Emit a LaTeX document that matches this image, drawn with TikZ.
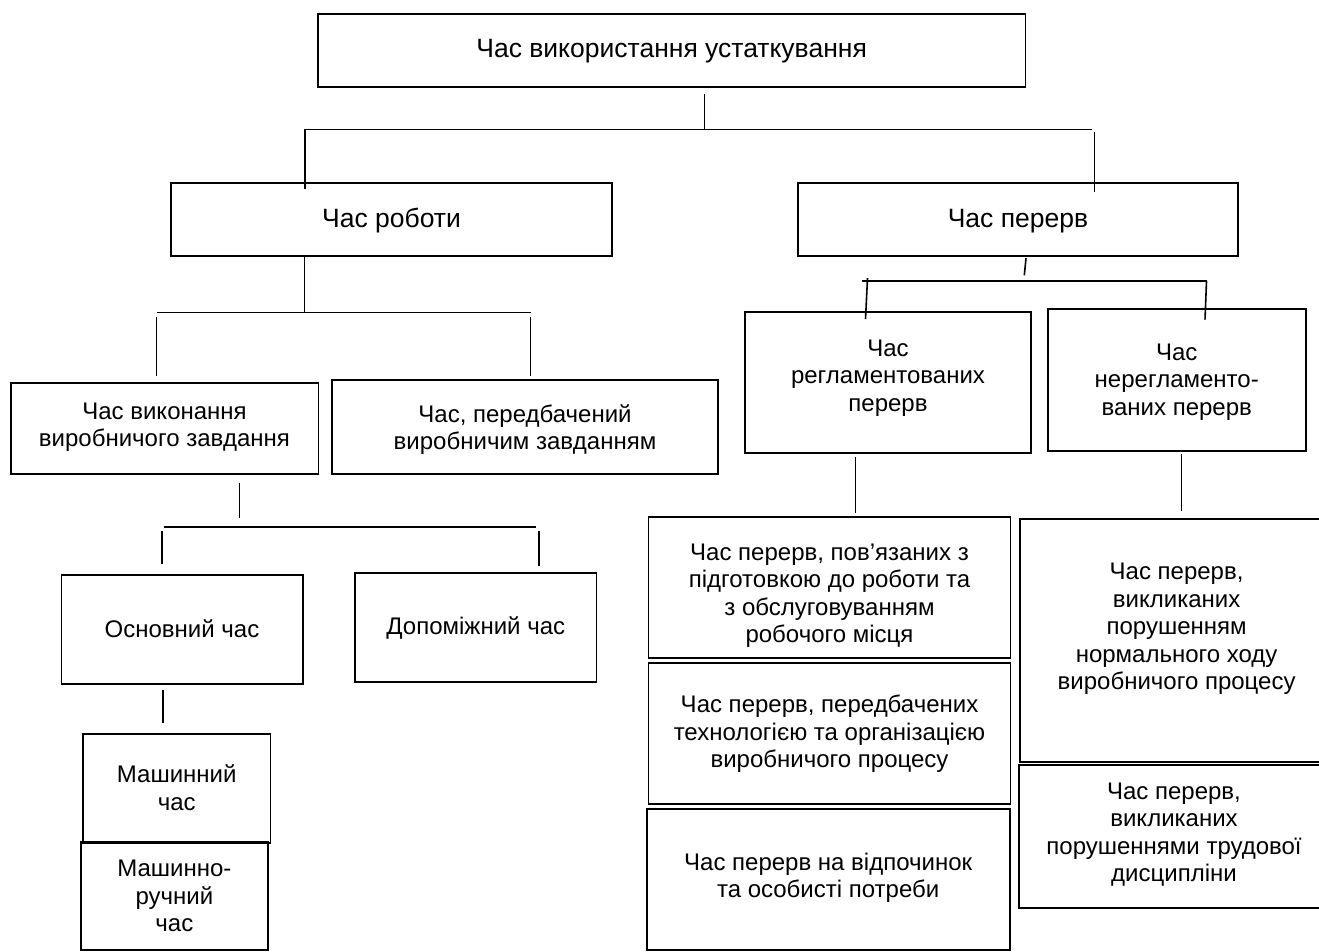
\documentclass[tikz,border=0pt]{standalone}
\usepackage{fontspec}
\setmainfont{Liberation Sans}
\usetikzlibrary{calc}
\begin{document}
\begin{tikzpicture}[x=1pt,y=-1pt,
  box/.style={draw, line width=1.8pt, rectangle, inner sep=0pt},
  txt/.style={align=center, inner sep=0pt, font=\fontsize{24}{27.4}\selectfont},
  big/.style={align=center, inner sep=0pt, font=\fontsize{26.5}{30}\selectfont},
  conn/.style={line width=1.6pt}]
\useasboundingbox (0,0) rectangle (1319,951);
\clip (0,0) rectangle (1319,951);
\fill[white] (0,0) rectangle (1319,951);

% boxes
\node[box, minimum width=707.8pt, minimum height=72.7pt] (b1) at (671.6,50.35) {};
\node[box, minimum width=441pt, minimum height=72.7pt] (b2) at (391.5,219.65) {};
\node[box, minimum width=440pt, minimum height=72.7pt] (b3) at (1018,219.65) {};
\node[box, minimum width=307.7pt, minimum height=91pt] (b4) at (164.55,428.8) {};
\node[box, minimum width=386.3pt, minimum height=94.3pt] (b5) at (525.15,427.15) {};
\node[box, minimum width=286.4pt, minimum height=141.6pt] (b6) at (888,382.5) {};
\node[box, minimum width=257.9pt, minimum height=142pt] (b7) at (1176.75,380) {};
\node[box, minimum width=241.6pt, minimum height=109.3pt] (b8) at (182.2,629.65) {};
\node[box, minimum width=241.5pt, minimum height=109pt] (b9) at (475.75,627.8) {};
\node[box, minimum width=187.5pt, minimum height=109.3pt] (b10) at (176.75,788.35) {};
\node[box, minimum width=186.7pt, minimum height=107.7pt] (b11) at (174.35,896.15) {};
\node[box, minimum width=362pt, minimum height=141.6pt] (b12) at (829.5,587.5) {};
\node[box, minimum width=362pt, minimum height=141.6pt] (b13) at (829.5,733.5) {};
\node[box, minimum width=362.9pt, minimum height=140.7pt] (b14) at (828.15,879.65) {};
\node[box, minimum width=313pt, minimum height=242.7pt] (b15) at (1176.5,640.35) {};
\node[box, minimum width=310.2pt, minimum height=143.3pt] (b16) at (1173.9,836.65) {};

% texts
\node[big] (t1) at (671.6,51) {Час використання устаткування};
\node[big] (t2) at (391.5,221) {Час роботи};
\node[big] (t3) at (1018,221) {Час перерв};
\node[txt] (t4) at (164.5,427) {Час виконання\\виробничого завдання};
\node[txt] (t5) at (525,429.5) {Час, передбачений\\виробничим завданням};
\node[txt] (t6) at (888,378) {Час\\регламентованих\\перерв};
\node[txt] (t7) at (1176.75,382) {Час\\нерегламенто-\\ваних перерв};
\node[txt] (t8) at (182,629) {Основний час};
\node[txt] (t9) at (475.75,628) {Допоміжний час};
\node[txt] (t10) at (176.75,787.5) {Машинний\\час};
\node[txt] (t11) at (174.35,896) {Машинно-\\ручний\\час};
\node[txt] (t12) at (829.5,595.7) {Час перерв, пов’язаних з\\підготовкою до роботи та\\з обслуговуванням\\робочого місця};
\node[txt] (t13) at (829.5,733.7) {Час перерв, передбачених\\технологією та організацією\\виробничого процесу};
\node[txt] (t14) at (828.15,877.8) {Час перерв на відпочинок\\та особисті потреби};
\node[txt] (t15) at (1176.6,629) {Час перерв,\\викликаних\\порушенням\\нормального ходу\\виробничого процесу};
\node[txt] (t16) at (1174,834.5) {Час перерв,\\викликаних\\порушеннями трудової\\дисципліни};

% bus coordinates
\coordinate (h1L) at (305,129.3);
\coordinate (h1R) at (1091.5,129.3);
\coordinate (h2L) at (157.3,312.3);
\coordinate (h2R) at (530.7,312.3);
\coordinate (h3L) at (862,281);
\coordinate (h3R) at (1206.5,281);
\coordinate (h4L) at (163.9,526.7);
\coordinate (h4R) at (536.3,526.7);

% connectors
\draw[conn] ($(b1.south)+(33,6.3)$) -- ($(b1.south)+(33,42.6)$);
\draw[conn] (h1L) -- (h1R);
\draw[conn] (h1L) -- ($(b2.north)+(-86.5,6.7)$);
\draw[conn] ($(b3.north)+(76.5,-50.3)$) -- ($(b3.north)+(76.5,9.4)$);

\draw[conn] ($(b2.south)+(-87.2,0)$) -- ($(b2.south)+(-87.2,55.7)$);
\draw[conn] (h2L) -- (h2R);
\draw[conn] ($(b4.north)+(-8,-65.3)$) -- ($(b4.north)+(-8,-6)$);
\draw[conn] ($(b5.north)+(5.15,-62)$) -- ($(b5.north)+(5.15,-3)$);

\draw[conn] ($(b3.south)+(8,1.3)$) -- ($(b3.south)+(6.3,18.5)$);
\draw[conn] (h3L) -- (h3R);
\draw[conn] ($(b6.north)+(-20.5,-32.7)$) -- ($(b6.north)+(-22.5,8.3)$);
\draw[conn] (h3R) -- ($(b7.north)+(28.25,11.5)$);

\draw[conn] ($(b4.south)+(74.75,7.4)$) -- ($(b4.south)+(74.75,42.4)$);
\draw[conn] (h4L) -- (h4R);
\draw[conn] ($(b8.north)+(-20.2,-43.3)$) -- ($(b8.north)+(-20.2,-10)$);
\draw[conn] ($(b9.north)+(63.25,-41.6)$) -- ($(b9.north)+(63.25,-6)$);

\draw[conn] ($(b8.south)+(-19.2,5)$) -- ($(b10.north)+(-13.75,-9.4)$);
\draw[conn] ($(b6.south)+(-32.5,2.7)$) -- ($(b12.north)+(26,-2.7)$);
\draw[conn] ($(b7.south)+(4.75,2.3)$) -- ($(b15.north)+(5,-6.7)$);
\end{tikzpicture}
\end{document}
